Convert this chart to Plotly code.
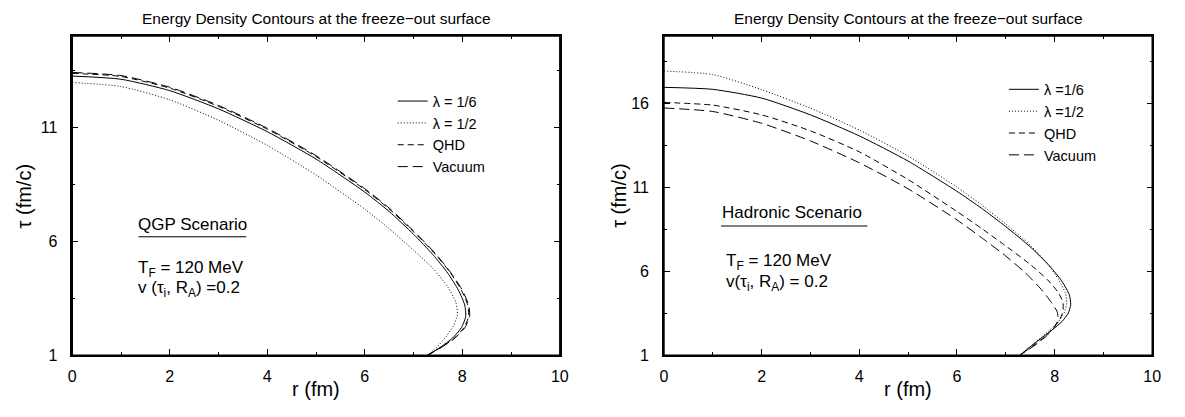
import plotly.graph_objects as go

W, H = 1185, 417
FONT = "Liberation Sans, Arial, Helvetica, sans-serif"

# ---------------- data ----------------
# Left panel: QGP scenario  (r in fm, tau in fm/c)
qgp_l16_r   = [0, 1, 2, 3, 4, 5, 6, 6.5, 7, 7.4, 7.7, 7.92, 8.05, 8.07, 7.98, 7.8, 7.55, 7.29]
qgp_l16_tau = [13.24, 13.1, 12.6, 11.8, 10.8, 9.6, 8.15, 7.3, 6.3, 5.4, 4.6, 3.85, 3.2, 2.7, 2.2, 1.75, 1.35, 1.0]
qgp_l12_r   = [0, 1, 2, 3, 4, 5, 6, 6.5, 7, 7.4, 7.7, 7.87, 7.9, 7.82, 7.68, 7.5, 7.29]
qgp_l12_tau = [12.96, 12.78, 12.2, 11.3, 10.2, 8.9, 7.4, 6.55, 5.6, 4.8, 4.0, 3.3, 2.8, 2.3, 1.85, 1.4, 1.0]
qgp_qhd_r   = [0, 1, 2, 3, 4, 5, 6, 6.5, 7, 7.44, 7.76, 7.98, 8.11, 8.13, 8.03, 7.84, 7.57, 7.29]
qgp_qhd_tau = [13.36, 13.22, 12.71, 11.91, 10.91, 9.71, 8.26, 7.41, 6.41, 5.44, 4.6, 3.85, 3.2, 2.7, 2.2, 1.75, 1.35, 1.0]
qgp_vac_r   = [0, 1, 2, 3, 4, 5, 6, 6.5, 7, 7.45, 7.77, 8.0, 8.13, 8.15, 8.05, 7.85, 7.58, 7.29]
qgp_vac_tau = [13.4, 13.26, 12.75, 11.95, 10.95, 9.75, 8.3, 7.45, 6.45, 5.45, 4.6, 3.85, 3.2, 2.7, 2.2, 1.75, 1.35, 1.0]

# Right panel: Hadronic scenario
had_l16_r   = [0, 1, 2, 3, 4, 5, 6, 6.5, 7, 7.5, 7.9, 8.15, 8.3, 8.33, 8.28, 8.15, 7.95, 7.7, 7.5, 7.29]
had_l16_tau = [16.94, 16.82, 16.3, 15.3, 14.05, 12.55, 10.75, 9.75, 8.65, 7.45, 6.3, 5.4, 4.6, 4.0, 3.5, 3.0, 2.5, 1.95, 1.5, 1.0]
had_l12_r   = [0, 1, 2, 3, 4, 5, 6, 6.5, 7, 7.5, 7.85, 8.08, 8.22, 8.25, 8.2, 8.08, 7.9, 7.68, 7.5, 7.29]
had_l12_tau = [17.91, 17.7, 16.8, 15.7, 14.4, 12.85, 11.0, 9.95, 8.8, 7.55, 6.45, 5.5, 4.7, 4.1, 3.55, 3.0, 2.5, 1.95, 1.5, 1.0]
had_qhd_r   = [0, 1, 2, 3, 4, 5, 6, 6.5, 7, 7.5, 7.85, 8.07, 8.17, 8.17, 8.1, 7.97, 7.8, 7.6, 7.29]
had_qhd_tau = [16.04, 15.88, 15.3, 14.35, 13.1, 11.45, 9.55, 8.55, 7.5, 6.4, 5.5, 4.75, 4.15, 3.6, 3.1, 2.6, 2.1, 1.65, 1.0]
had_vac_r   = [0, 1, 2, 3, 4, 5, 6, 6.5, 7, 7.4, 7.7, 7.92, 8.05, 8.07, 7.98, 7.82, 7.6, 7.29]
had_vac_tau = [15.71, 15.5, 14.8, 13.75, 12.45, 10.9, 9.05, 8.0, 6.9, 5.9, 5.0, 4.2, 3.6, 3.1, 2.6, 2.1, 1.6, 1.0]

left_names  = ["\u03bb = 1/6", "\u03bb = 1/2", "QHD", "Vacuum"]
right_names = ["\u03bb =1/6", "\u03bb =1/2", "QHD", "Vacuum"]
dashes = ["solid", "1px,2px", "6px,4px", "10px,5px"]

x_ticks = [0, 2, 4, 6, 8, 10]
x_minor = [1, 3, 5, 7, 9]
yl_ticks = [1, 6, 11]
yl_minor = [3.5, 8.5, 13.5]
yr_ticks = [1, 6, 11, 16]
yr_minor = [3.5, 8.5, 13.5, 18.5]

# ---------------- figure ----------------
def px(x):
    return x / W

def py(y):
    return 1 - y / H

fig = go.Figure()
left_series = [(qgp_l16_r, qgp_l16_tau), (qgp_l12_r, qgp_l12_tau),
               (qgp_qhd_r, qgp_qhd_tau), (qgp_vac_r, qgp_vac_tau)]
right_series = [(had_l16_r, had_l16_tau), (had_l12_r, had_l12_tau),
                (had_qhd_r, had_qhd_tau), (had_vac_r, had_vac_tau)]
for (r, t), name, d in zip(left_series, left_names, dashes):
    fig.add_trace(go.Scatter(x=r, y=t, mode="lines", name=name,
                             line=dict(color="black", width=1, dash=d, shape="spline", smoothing=0.6),
                             xaxis="x", yaxis="y", legend="legend"))
for (r, t), name, d in zip(right_series, right_names, dashes):
    fig.add_trace(go.Scatter(x=r, y=t, mode="lines", name=name,
                             line=dict(color="black", width=1, dash=d, shape="spline", smoothing=0.6),
                             xaxis="x2", yaxis="y2", legend="legend2"))

# plot-area edges in pixels
LX0, LX1 = 69, 562
RX0, RX1 = 667.3, 1161
YB, YT = 363, 36.7
ydom = [py(YB), py(YT)]
TICKFONT = dict(family=FONT, size=16, color="black")

def xax(dom, anchor):
    return dict(domain=dom, range=[0, 10], tickmode="array", tickvals=x_ticks,
                ticks="inside", ticklen=6, tickcolor="black", mirror="allticks",
                showline=True, linecolor="black", linewidth=1.5, showgrid=False,
                zeroline=False, anchor=anchor, ticklabelstandoff=6, tickfont=TICKFONT,
                minor=dict(tickmode="array", tickvals=x_minor, ticks="inside",
                           ticklen=3, tickcolor="black"))

def yax(rng, tv, mv, anchor):
    return dict(domain=ydom, range=rng, tickmode="array", tickvals=tv,
                ticks="inside", ticklen=6, tickcolor="black", mirror="allticks",
                showline=True, linecolor="black", linewidth=1.5, showgrid=False,
                zeroline=False, anchor=anchor, ticklabelstandoff=10, tickfont=TICKFONT,
                minor=dict(tickmode="array", tickvals=mv, ticks="inside",
                           ticklen=3, tickcolor="black"))

LEGFONT = dict(family=FONT, size=14.5, color="black")
fig.update_layout(
    width=W, height=H, autosize=False,
    margin=dict(l=0, r=0, t=0, b=0),
    paper_bgcolor="white", plot_bgcolor="white",
    font=dict(family=FONT, color="black"),
    xaxis=xax([px(LX0), px(LX1)], "y"),
    yaxis=yax([1, 15], yl_ticks, yl_minor, "x"),
    xaxis2=xax([px(RX0), px(RX1)], "y2"),
    yaxis2=yax([1, 20], yr_ticks, yr_minor, "x2"),
    legend=dict(x=px(393), y=py(87), xanchor="left", yanchor="top",
                bgcolor="rgba(0,0,0,0)", font=LEGFONT, tracegroupgap=0),
    legend2=dict(x=px(1011), y=py(75), xanchor="left", yanchor="top",
                 bgcolor="rgba(0,0,0,0)", font=LEGFONT, tracegroupgap=0),
    showlegend=True,
)

# frame of each plot area, drawn as four edge lines
for x0, x1 in ((LX0, LX1), (RX0, RX1)):
    for (a, b, c, d) in ((x0, YB, x1, YB), (x0, YT, x1, YT), (x0, YB, x0, YT), (x1, YB, x1, YT)):
        fig.add_shape(type="line", xref="paper", yref="paper",
                      x0=px(a), y0=py(b), x1=px(c), y1=py(d),
                      line=dict(color="black", width=1.5))

ann = []
title = "Energy Density Contours at the freeze\u2212out surface"
for cx in ((LX0 + LX1) / 2, (RX0 + RX1) / 2):
    ann.append(dict(text=title, x=px(cx), y=py(18.5), xref="paper", yref="paper",
                    xanchor="center", yanchor="middle", showarrow=False,
                    font=dict(family=FONT, size=15.5)))
    ann.append(dict(text="r (fm)", x=px(cx), y=py(398), xref="paper", yref="paper",
                    xanchor="center", yanchor="middle", showarrow=False,
                    font=dict(family=FONT, size=20)))
for lx in (20, 621):
    ann.append(dict(text="\u03c4 (fm/c)", x=px(lx), y=py(200), xref="paper", yref="paper",
                    xanchor="center", yanchor="middle", textangle=-90, showarrow=False,
                    font=dict(family=FONT, size=20)))
texts = [
    ("QGP Scenario", 133, 229),
    ("T<sub>F</sub> = 120 MeV", 133, 275),
    ("v (\u03c4<sub>i</sub>, R<sub>A</sub>) =0.2", 133, 295),
    ("Hadronic Scenario", 724, 217),
    ("T<sub>F</sub> = 120 MeV", 728, 268),
    ("v(\u03c4<sub>i</sub>, R<sub>A</sub>) = 0.2", 728, 289),
]
for t, x, y in texts:
    ann.append(dict(text=t, x=px(x), y=py(y), xref="paper", yref="paper",
                    xanchor="left", yanchor="middle", showarrow=False,
                    font=dict(family=FONT, size=17)))
fig.update_layout(annotations=ann)

# underlines of the scenario labels
fig.add_shape(type="line", xref="paper", yref="paper", x0=px(136), x1=px(245),
              y0=py(242), y1=py(242), line=dict(color="black", width=1))
fig.add_shape(type="line", xref="paper", yref="paper", x0=px(725), x1=px(873),
              y0=py(231), y1=py(231), line=dict(color="black", width=1))

fig.write_html(
    "out.html",
    config={"displayModeBar": False},
    post_script=("document.body.style.margin='0';"
                 "document.body.style.overflow='hidden';"
                 "document.documentElement.style.overflow='hidden';"),
)
